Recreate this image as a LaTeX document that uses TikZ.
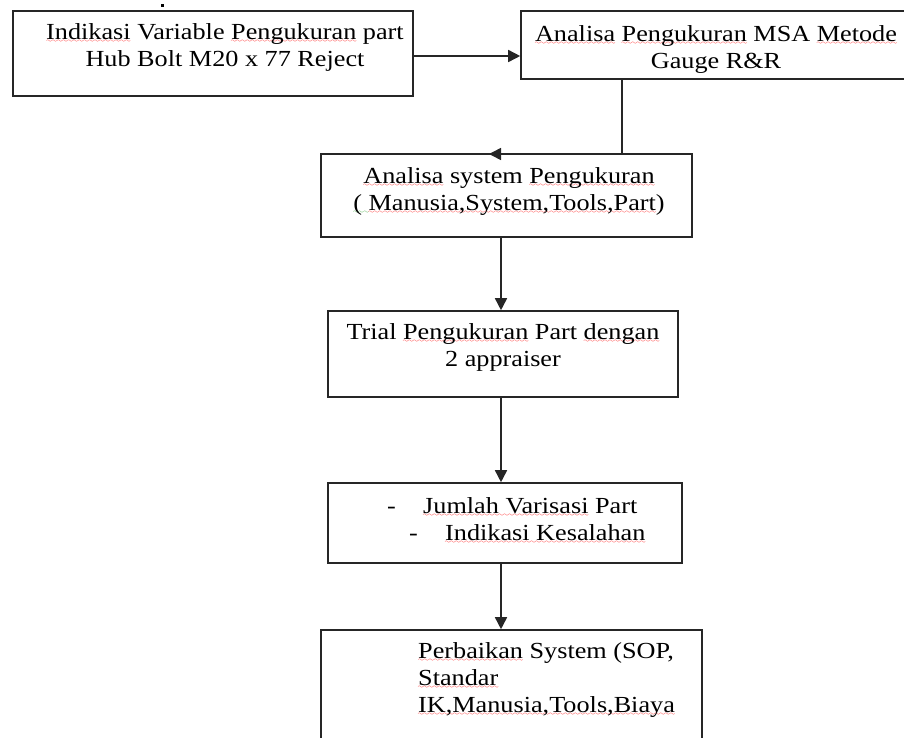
\documentclass[tikz,border=0pt]{standalone}
\usepackage{fontspec}
\setmainfont{Liberation Serif}[FakeStretch=1.14]
\usetikzlibrary{arrows.meta}
% spell-check style wavy underlines
\font\sqfont=lasy6
\definecolor{sqgreen}{RGB}{40,160,40}
\newcommand\sqline[2]{\leavevmode\setbox0\hbox{#2}%
  \rlap{\textcolor{#1}{\lower3pt\hbox to\wd0{\xleaders\hbox{\sqfont\char58}\hfill}}}\box0\relax}
\newcommand\redsq[1]{\sqline{red}{#1}}
\newcommand\greensq[1]{\sqline{sqgreen}{#1}}
\tikzset{
  box/.style={draw=black!85, line width=1.6pt, rectangle, inner sep=0pt},
  txt/.style={anchor=north, inner sep=0pt, align=center,
    font=\fontsize{23}{27}\selectfont, execute at begin node=\strut},
  txtl/.style={txt, anchor=north west, align=left},
  arr/.style={draw=black!85, line width=1.6pt,
    -{Triangle[length=12pt,width=12pt]}},
}
\begin{document}
\begin{tikzpicture}[x=1pt,y=-1pt]
\useasboundingbox (0,0) rectangle (904,737);
\clip (0,0) rectangle (904,737);

% boxes
\node[box, minimum width=400pt, minimum height=85pt] (b1) at (213,53.5) {};
\node[box, minimum width=389pt, minimum height=68pt] (b2) at (715.5,45) {};
\node[box, minimum width=371pt, minimum height=83pt] (b3) at (506.5,195.5) {};
\node[box, minimum width=350pt, minimum height=86pt] (b4) at (503,354) {};
\node[box, minimum width=354pt, minimum height=80pt] (b5) at (505,523) {};
\node[box, minimum width=381pt, minimum height=130pt] (b6) at (511.5,695) {};

% stray mark above the first box
\node[fill=black, minimum size=3pt, inner sep=0pt] (dot) at (162,5.5) {};

% texts
\node[txt] (t1) at (225,23)
  {\redsq{Indikasi} Variable \redsq{Pengukuran} part\\Hub Bolt M20 x 77 Reject};
\node[txt] (t2) at (716,25)
  {\redsq{Analisa} \redsq{Pengukuran} MSA \redsq{Metode}\\Gauge R\&R};
\node[txt] (t3) at (509,167.5)
  {\redsq{Analisa} system \redsq{Pengukuran}\\\greensq{(~}\redsq{Manusia,System,Tools,Part})};
\node[txt] (t4) at (503,323)
  {Trial \redsq{Pengukuran} Part \redsq{dengan}\\2 appraiser};
\node[txtl] (t5) at (387,497.5)
  {\makebox[36pt][l]{-}\redsq{Jumlah Varisasi} Part\\
   \hspace*{22pt}\makebox[36pt][l]{-}\redsq{Indikasi Kesalahan}};
\node[txtl] (t6) at (418,642.5)
  {\redsq{Perbaikan} System (SOP,\\\redsq{Standar}\\\redsq{IK,Manusia,Tools,Biaya}};

% connectors
\coordinate (hy) at (0,56);
\coordinate (vx) at (501,0);
\coordinate (c23) at (622,0);
\coordinate (tip23) at (489,154);

\draw[arr] (b1.east |- hy) -- (b2.west |- hy);
\draw[arr] (b2.south -| c23) |- (tip23);
\draw[arr] (b3.south -| vx) -- (b4.north -| vx);
\draw[arr] (b4.south -| vx) -- (b5.north -| vx);
\draw[arr] (b5.south -| vx) -- (b6.north -| vx);
\end{tikzpicture}
\end{document}
